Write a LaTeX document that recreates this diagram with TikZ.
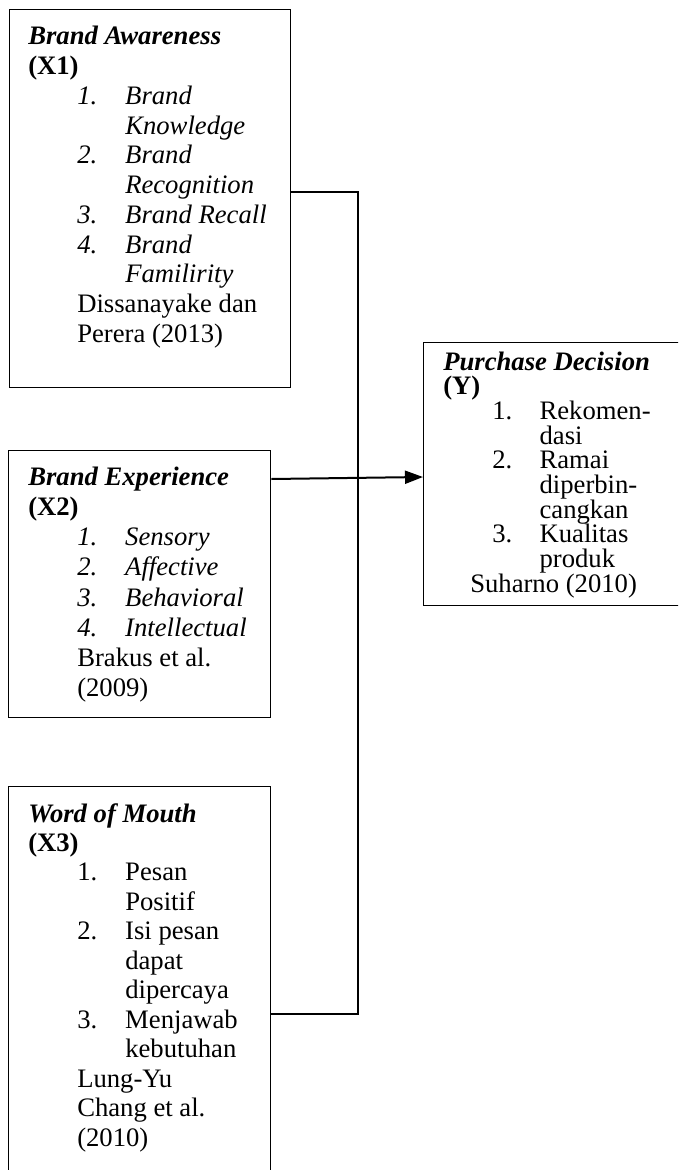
\documentclass[tikz,border=0pt]{standalone}
\usepackage{fontspec}
\setmainfont{Liberation Serif}
\usetikzlibrary{arrows.meta}
\tikzset{
  box/.style={draw, line width=1pt, anchor=north west, inner sep=0pt, fill=none},
  conn/.style={line width=1.5pt},
  arr/.style={line width=1.5pt, -{Triangle[length=13.5pt, width=9.75pt]}},
  txt/.style={anchor=base west, inner sep=0pt, align=left}
}
\newcommand{\myhd}[1]{\textbf{\textit{#1}}}
\newcommand{\mynum}[1]{\hspace*{36.75pt}\makebox[36pt][l]{#1}}
\newcommand{\mycont}{\hspace*{72.75pt}}
\begin{document}
\begin{tikzpicture}[x=0.75pt, y=-0.75pt]
\clip (0,0) rectangle (678,1170);
\fill[white] (0,0) rectangle (678,1170);
\useasboundingbox (0,0) rectangle (678,1170);

% boxes
\node[box, minimum width=210.75pt, minimum height=283.5pt] (b1) at (9,9) {};
\node[box, minimum width=196.5pt, minimum height=200.25pt] (b2) at (8,450) {};
\node[box, minimum width=196.5pt, minimum height=295.5pt] (b3) at (8,786) {};
\node[box, minimum width=200.25pt, minimum height=197.25pt] (bY) at (423,342) {};

% texts
\node[txt] (t1) at (28,45) {\parbox[t]{250pt}{\fontsize{20}{22.3}\selectfont
\myhd{Brand Awareness}\\
\textbf{(X1)}\\
\mynum{\textit{1.}}\textit{Brand}\\
\mycont\textit{Knowledge}\\
\mynum{\textit{2.}}\textit{Brand}\\
\mycont\textit{Recognition}\\
\mynum{\textit{3.}}\textit{Brand Recall}\\
\mynum{\textit{4.}}\textit{Brand}\\
\mycont\textit{Familirity}\\
\hspace*{36.75pt}Dissanayake dan\\
\hspace*{36.75pt}Perera (2013)}};

\node[txt] (t2) at (28,485) {\parbox[t]{250pt}{\fontsize{20}{22.7}\selectfont
\myhd{Brand Experience}\\
\textbf{(X2)}\\
\mynum{\textit{1.}}\textit{Sensory}\\
\mynum{\textit{2.}}\textit{Affective}\\
\mynum{\textit{3.}}\textit{Behavioral}\\
\mynum{\textit{4.}}\textit{Intellectual}\\
\hspace*{36.75pt}Brakus et al.\\
\hspace*{36.75pt}(2009)}};

\node[txt] (t3) at (28,822) {\parbox[t]{250pt}{\fontsize{20}{22.1}\selectfont
\myhd{Word of Mouth}\\
\textbf{(X3)}\\
\mynum{1.}Pesan\\
\mycont Positif\\
\mynum{2.}Isi pesan\\
\mycont dapat\\
\mycont dipercaya\\
\mynum{3.}Menjawab\\
\mycont kebutuhan\\
\hspace*{36.75pt}Lung-Yu\\
\hspace*{36.75pt}Chang et al.\\
\hspace*{36.75pt}(2010)}};

\node[txt] (tY) at (443,370) {\parbox[t]{250pt}{\fontsize{20}{18.5}\selectfont
\myhd{Purchase Decision}\\
\textbf{(Y)}\\
\hspace*{36.75pt}\makebox[35.5pt][l]{1.}Rekomen-\\
\hspace*{72.25pt}dasi\\
\hspace*{36.75pt}\makebox[35.5pt][l]{2.}Ramai\\
\hspace*{72.25pt}diperbin-\\
\hspace*{72.25pt}cangkan\\
\hspace*{36.75pt}\makebox[35.5pt][l]{3.}Kualitas\\
\hspace*{72.25pt}produk\\
\hspace*{20.25pt}Suharno (2010)}};

% connectors
\coordinate (j1) at (358,192);
\coordinate (j3) at (358,1014);
\coordinate (a0) at (270,479);
\coordinate (a1) at (423,477);
\draw[conn] (b1.east |- j1) -- (j1) -- (j3) -- (b3.east |- j3);
\draw[arr] (b2.east |- a0) -- (bY.west |- a1);
\end{tikzpicture}
\end{document}
